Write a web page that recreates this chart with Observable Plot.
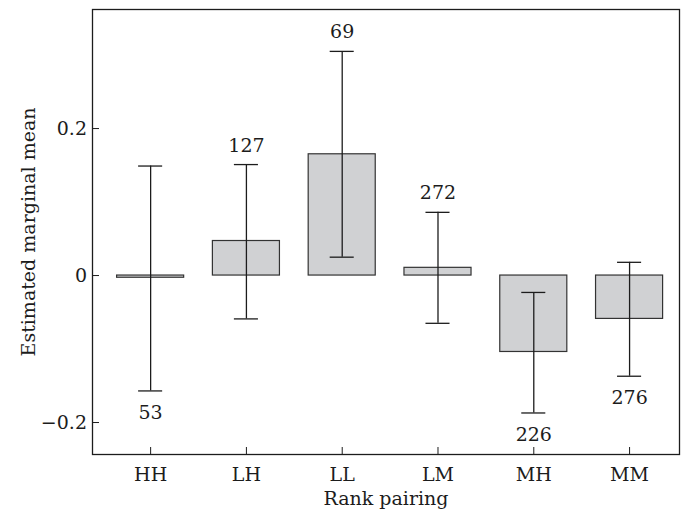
<!DOCTYPE html>
<html>
<head>
<meta charset="utf-8">
<script src="https://cdn.jsdelivr.net/npm/d3@7"></script>
<script src="https://cdn.jsdelivr.net/npm/@observablehq/plot@0.6"></script>
<style>
  html, body { margin: 0; padding: 0; background: #fff; }
</style>
</head>
<body>
<div id="chart"></div>
<script>
const categories = ["HH", "LH", "LL", "LM", "MH", "MM"];
const means = [-0.003, 0.047, 0.165, 0.0105, -0.104, -0.059];
const lower = [-0.157, -0.059, 0.025, -0.065, -0.187, -0.137];
const upper = [0.149, 0.151, 0.305, 0.086, -0.023, 0.018];
const counts = [53, 127, 69, 272, 226, 276];
const yTicks = [-0.2, 0, 0.2];
const xTitle = "Rank pairing";
const yTitle = "Estimated marginal mean";

const data = categories.map((c, i) => ({cat: c, mean: means[i], lo: lower[i], hi: upper[i], n: counts[i]}));
const above = data.filter(d => d.mean >= 0);
const below = data.filter(d => d.mean < 0);

const ink = "#1c1c1c";
const fs = 19;
const chart = Plot.plot({
  width: 686,
  height: 517,
  marginLeft: 92,
  marginTop: 9,
  marginRight: 7,
  marginBottom: 63,
  style: {fontFamily: "DejaVu Serif", fontSize: fs + "px", color: ink, background: "#fff"},
  x: {domain: categories, paddingInner: 0.3, paddingOuter: 0.214, align: 0.6, round: false, label: null},
  y: {domain: [-0.2435, 0.362], label: null},
  marks: [
    Plot.barY(data, {x: "cat", y1: 0, y2: "mean", fill: "#d0d1d3", stroke: "#333", strokeWidth: 1.2}),
    Plot.ruleX(data, {x: "cat", y1: "lo", y2: "hi", stroke: ink, strokeWidth: 1.3}),
    Plot.tickY(data, {x: "cat", y: "lo", stroke: ink, strokeWidth: 1.3, inset: 21.5}),
    Plot.tickY(data, {x: "cat", y: "hi", stroke: ink, strokeWidth: 1.3, inset: 21.5}),
    Plot.text(above, {x: "cat", y: "hi", text: "n", dy: -19, fill: ink, fontSize: fs}),
    Plot.text(below, {x: "cat", y: "lo", text: "n", dy: 22, fill: ink, fontSize: fs}),
    Plot.axisX({ticks: categories, tickSize: -7, tickPadding: 19.5, stroke: ink, fill: ink, fontSize: fs, label: null}),
    Plot.axisY({ticks: yTicks, tickSize: -7, tickPadding: 12.5, stroke: ink, fill: ink, fontSize: fs, label: null,
      tickFormat: d => d === 0 ? "0" : d3.format(".1f")(d)}),
    Plot.frame({stroke: ink, strokeWidth: 1.3}),
    Plot.text([xTitle], {frameAnchor: "bottom", dy: 50, fill: ink, fontSize: fs}),
    Plot.text([yTitle], {frameAnchor: "left", textAnchor: "middle", dx: -64, rotate: -90, fill: ink, fontSize: fs})
  ]
});
document.getElementById("chart").appendChild(chart);
</script>
</body>
</html>
